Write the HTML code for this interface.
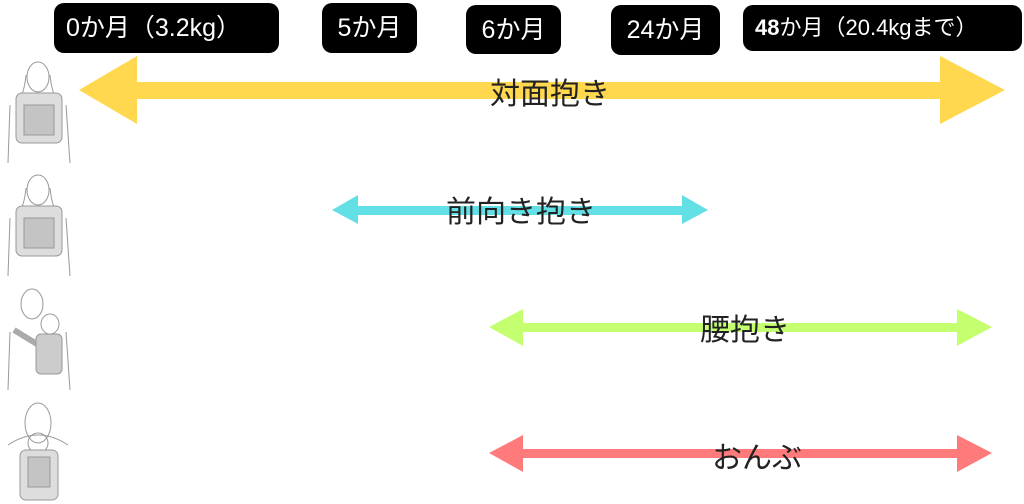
<!DOCTYPE html>
<html><head><meta charset="utf-8"><style>
html,body{margin:0;padding:0;background:#fff;}
body{width:1024px;height:504px;position:relative;overflow:hidden;font-family:"Liberation Sans","Noto Sans CJK JP",sans-serif;}
.b{position:absolute;background:#000;color:#fff;border-radius:10px;font-size:25px;line-height:50px;text-align:center;white-space:nowrap;}
.t{position:absolute;color:#222;font-size:30px;white-space:nowrap;transform:translate(-50%,-50%);}
</style></head><body>
<div class="b" style="left:54px;top:3px;width:225px;height:50px;text-align:left;padding-left:12px;box-sizing:border-box;">0か月（3.2kg）</div>
<div class="b" style="left:322px;top:3px;width:95px;height:50px;">5か月</div>
<div class="b" style="left:466px;top:5px;width:95px;height:49px;">6か月</div>
<div class="b" style="left:611px;top:5px;width:109px;height:50px;">24か月</div>
<div class="b" style="left:743px;top:5px;width:279px;height:46px;line-height:46px;font-size:22px;text-align:left;padding-left:12px;box-sizing:border-box;"><b>48</b>か月（20.4kgまで）</div>

<svg width="1024" height="504" style="position:absolute;left:0;top:0">
<g fill="#ffd850">
<rect x="130" y="82" width="815" height="17"/>
<polygon points="79,90 137,56 137,124"/>
<polygon points="1005,90 940,56 940,124"/>
</g>
<g fill="#62e0e6">
<rect x="355" y="206" width="330" height="9"/>
<polygon points="332,210 358,195 358,224"/>
<polygon points="708,210 682,195 682,224"/>
</g>
<g fill="#c4ff70">
<rect x="520" y="323" width="440" height="9"/>
<polygon points="489,327 523,309 523,346"/>
<polygon points="992,327 957,309 957,346"/>
</g>
<g fill="#ff7b7b">
<rect x="520" y="449" width="440" height="9"/>
<polygon points="489,453 523,435 523,472"/>
<polygon points="992,453 957,435 957,472"/>
</g>
<g stroke="#999" stroke-width="1" fill="none">
<g transform="translate(0,55)">
<ellipse cx="38" cy="22" rx="11" ry="15"/><path d="M26 20 Q24 40 18 45 M50 20 Q52 40 58 45"/>
<rect x="16" y="38" width="46" height="50" rx="6" fill="#ddd"/><rect x="24" y="50" width="30" height="30" fill="#c4c4c4"/>
<path d="M10 50 L8 108 M66 50 L70 108"/></g>
<g transform="translate(0,168)">
<ellipse cx="38" cy="22" rx="11" ry="15"/><path d="M26 20 Q24 40 18 45 M50 20 Q52 40 58 45"/>
<rect x="16" y="38" width="46" height="50" rx="6" fill="#ddd"/><rect x="24" y="50" width="30" height="30" fill="#c4c4c4"/>
<path d="M10 50 L8 108 M66 50 L70 108"/></g>
<g transform="translate(0,282)">
<ellipse cx="32" cy="22" rx="11" ry="15"/><ellipse cx="50" cy="42" rx="9" ry="10"/>
<path d="M14 48 L50 70" stroke-width="6" stroke="#aaa"/>
<rect x="36" y="52" width="26" height="40" rx="5" fill="#ccc"/>
<path d="M10 50 L8 108 M66 50 L70 108"/></g>
<g transform="translate(0,395)">
<ellipse cx="38" cy="28" rx="13" ry="20"/><ellipse cx="38" cy="48" rx="10" ry="10"/>
<path d="M8 50 Q38 30 68 50"/>
<rect x="20" y="55" width="38" height="50" rx="6" fill="#ddd"/><rect x="28" y="62" width="22" height="30" fill="#c4c4c4"/></g>
</g>
</svg>
<div class="t" style="left:550px;top:91px;">対面抱き</div>
<div class="t" style="left:521px;top:209px;">前向き抱き</div>
<div class="t" style="left:745px;top:327px;">腰抱き</div>
<div class="t" style="left:757px;top:455px;">おんぶ</div>
</body></html>
